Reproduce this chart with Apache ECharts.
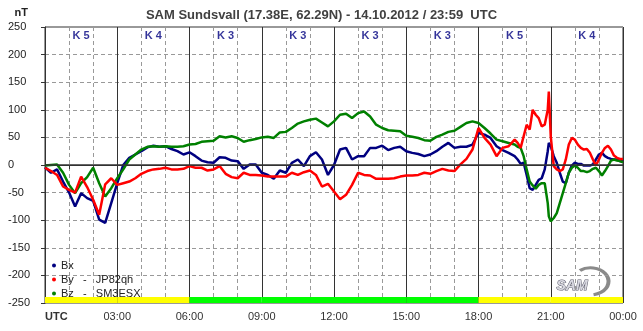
<!DOCTYPE html>
<html>
<head>
<meta charset="utf-8">
<script src="https://cdn.jsdelivr.net/npm/echarts@6/dist/echarts.min.js"></script>
<style>
  html, body { margin: 0; padding: 0; background: #fff; }
  #chart { width: 643px; height: 331px; }
</style>
</head>
<body>
<div id="chart"></div>
<script>
// hours UTC
const times = [
  0, 0.25, 0.5, 0.75, 1, 1.25, 1.5, 1.75, 2, 2.25, 2.5, 2.75, 3, 3.25, 3.5, 3.75,
  4, 4.25, 4.5, 4.75, 5, 5.25, 5.5, 5.75, 6, 6.25, 6.5, 6.75, 7, 7.25, 7.5, 7.75,
  8, 8.25, 8.5, 8.75, 9, 9.25, 9.5, 9.75, 10, 10.25, 10.5, 10.75, 11, 11.25, 11.5, 11.75,
  12, 12.25, 12.5, 12.75, 13, 13.25, 13.5, 13.75, 14, 14.25, 14.5, 14.75, 15, 15.25, 15.5, 15.75,
  16, 16.25, 16.5, 16.75, 17, 17.25, 17.5, 17.75, 18, 18.25, 18.5, 18.75, 19, 19.25, 19.5,
  19.625, 19.75, 19.875, 20, 20.125, 20.25, 20.375, 20.5, 20.625, 20.75, 20.875, 20.92, 21,
  21.125, 21.25, 21.375, 21.5, 21.625, 21.75, 21.875, 22, 22.125, 22.25, 22.375, 22.5, 22.625,
  22.75, 22.875, 23, 23.125, 23.25, 23.375, 23.5, 23.625, 23.75, 23.875, 24
];

const bx = [
  -4, -14, -8, -30, -50, -75, -51, -60, -65, -99, -105, -69, -33, 0, 13, 19,
  25, 32, 35, 33, 34, 29, 25, 19, 23, 16, 8, 5, 4, 14, 13, 8,
  7, -7, 1, 1, -14, -18, -25, -10, -14, 4, 10, -2, 16, 23, 10, -18,
  0, 28, 31, 10, 16, 16, 31, 31, 35, 27, 31, 33, 25, 22, 20, 16,
  19, 25, 33, 40, 31, 33, 33, 37, 58, 55, 49, 34, 27, 22, 16,
  10, 2, 4, -18, -42, -45, -36, -27, -24, -8, 25, 40, 34,
  16, 4, -14, -30, -33, -14, -1, 4, 2, 2, -1, -1, -1,
  1, 10, 19, 22, 16, 13, 11, 10, 10, 7, 7
];

const by = [
  -5, -11, -18, -39, -45, -50, -21, -40, -63, -90, -35, -24, -36, -33, -30, -24,
  -16, -11, -8, -7, -5, -8, -8, -7, -2, -5, -5, -10, -8, -2, -16, -22,
  -24, -14, -18, -18, -19, -21, -21, -21, -21, -14, -18, -13, -10, -18, -39, -34,
  -48, -62, -54, -36, -14, -18, -19, -25, -25, -25, -24, -21, -19, -19, -18, -14,
  -16, -11, -7, -10, -11, 1, 11, 28, 67, 49, 37, 16, 31, 34, 46,
  40, 31, 52, 73, 64, 100, 91, 85, 70, 73, 100, 133, 52,
  -2, -8, -11, -8, 10, 37, 49, 46, 37, 31, 28, 29, 22,
  10, -1, 10, 22, 31, 35, 28, 17, 13, 11, 11
];

const bz = [
  -1, 0, 1, -14, -36, -51, -33, -22, -5, -33, -57, -42, -24, -8, 10, 19,
  28, 33, 34, 33, 34, 33, 33, 34, 37, 38, 42, 43, 44, 52, 50, 52,
  49, 42, 45, 47, 50, 51, 49, 59, 60, 67, 75, 79, 82, 84, 77, 70,
  79, 91, 93, 85, 94, 97, 88, 73, 67, 63, 62, 61, 53, 51, 49, 45,
  44, 51, 55, 60, 62, 69, 76, 79, 76, 67, 57, 46, 43, 40, 37,
  33, 31, 16, -8, -30, -37, -43, -36, -33, -33, -69, -93, -102,
  -96, -87, -69, -51, -33, -14, -5, -1, -5, -11, -11, -13, -11,
  -7, -5, -11, -19, -11, -2, 8, 10, 8, 7, 5
];

// K index per 3-hour block
const kIndex = [5, 4, 3, 3, 3, 3, 5, 4];
// activity level per 3-hour block (bottom bar)
const activity = ['unsettled', 'unsettled', 'quiet', 'quiet', 'quiet', 'quiet', 'unsettled', 'unsettled'];
const xTickLabels = ['UTC', '03:00', '06:00', '09:00', '12:00', '15:00', '18:00', '21:00', '00:00'];
const stations = { Bx: '', By: 'JP82qh', Bz: 'SM3ESX' };

const levelColor = { quiet: '#00ff00', unsettled: '#ffff00' };
const pair = (vals) => times.map((t, i) => [t, vals[i]]);

const chart = echarts.init(document.getElementById('chart'), null, { renderer: 'canvas' });

const lineSeries = (name, vals, color) => ({
  name, type: 'line', data: pair(vals), showSymbol: false, symbol: 'circle',
  color, lineStyle: { color, width: 2.5 }, z: 3, animation: false
});

chart.setOption({
  backgroundColor: '#fff',
  animation: false,
  textStyle: { fontFamily: 'Liberation Sans, Arial, sans-serif' },
  title: {
    text: 'SAM Sundsvall (17.38E, 62.29N) - 14.10.2012 / 23:59  UTC',
    left: 'center', top: 4,
    textStyle: { fontSize: 13, fontWeight: 'bold', color: '#404040' }
  },
  legend: {
    data: ['Bx', 'By', 'Bz'],
    orient: 'vertical', left: 47, top: 255,
    icon: 'circle', itemWidth: 4, itemHeight: 4, itemGap: 3,
    formatter: n => stations[n] ? n + '   -   ' + stations[n] : n,
    textStyle: { fontSize: 11, color: '#222', lineHeight: 11 }
  },
  grid: { left: 45, right: 20, top: 27, bottom: 28, show: true, borderColor: '#333', borderWidth: 1, backgroundColor: '#fff' },
  xAxis: {
    type: 'value', min: 0, max: 24, interval: 3,
    axisLine: { lineStyle: { color: '#333', width: 1 } },
    axisTick: { show: true, length: 4, lineStyle: { color: '#333' } },
    minorTick: { show: true, splitNumber: 3, length: 4, lineStyle: { color: '#333' } },
    splitLine: { show: true, lineStyle: { color: '#333', width: 1 } },
    minorSplitLine: { show: true, lineStyle: { color: '#999', type: [4, 3] } },
    axisLabel: {
      fontSize: 11, color: '#333', margin: 8, alignMinLabel: 'left',
      formatter: v => v === 0 ? '{b|UTC}' : xTickLabels[v / 3],
      rich: { b: { fontWeight: 'bold', fontSize: 11, color: '#333' } }
    }
  },
  yAxis: {
    type: 'value', min: -250, max: 250, interval: 50,
    name: 'nT', nameLocation: 'end', nameGap: 9,
    nameTextStyle: { fontSize: 11, fontWeight: 'bold', color: '#222', align: 'right', padding: [0, 17, 0, 0] },
    axisLine: { show: true, lineStyle: { color: '#333', width: 1 } },
    axisTick: { show: true, length: 4, lineStyle: { color: '#333' } },
    splitLine: { show: true, lineStyle: { color: '#999', type: [4, 3] } },
    axisLabel: { fontSize: 11, color: '#222', align: 'left', margin: 37 }
  },
  series: [
    {
      name: 'K', type: 'scatter', symbolSize: 0, z: 2, silent: true,
      data: kIndex.map((k, i) => [1.5 + 3 * i, 233, k]),
      label: {
        show: true, position: 'inside',
        formatter: p => 'K ' + p.value[2],
        fontSize: 11, fontWeight: 'bold', color: '#000080'
      },
      markLine: {
        silent: true, symbol: 'none', label: { show: false },
        lineStyle: { color: '#333', type: 'solid', width: 1.5 },
        data: [{ yAxis: 0 }]
      },
      markArea: {
        silent: true,
        data: activity.map((a, i) => [
          { xAxis: 3 * i, yAxis: -250, itemStyle: { color: levelColor[a] } },
          { xAxis: 3 * i + 3, yAxis: -239 }
        ])
      }
    },
    lineSeries('Bx', bx, '#000080'),
    lineSeries('Bz', bz, '#008000'),
    lineSeries('By', by, '#ff0000')
  ],
  graphic: [
    {
      type: 'group', left: 556, top: 266, children: [
        { type: 'arc', shape: { cx: 34, cy: 14, r: 18, startAngle: -2.2, endAngle: 1.4 }, scaleY: 0.75,
          style: { stroke: '#8a8a8a', lineWidth: 4, fill: null } },
        { type: 'text', x: 0, y: 8, style: { text: 'SAM', font: 'italic bold 14px Liberation Sans, Arial', fill: '#d8d8e0', stroke: '#5a5a6a', lineWidth: 1 } }
      ]
    }
  ]
});
</script>
</body>
</html>
